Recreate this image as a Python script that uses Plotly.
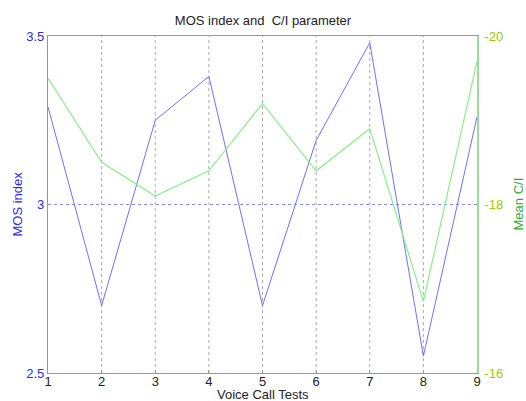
import plotly.graph_objects as go

tests = [1, 2, 3, 4, 5, 6, 7, 8, 9]
mos_index = [3.29, 2.70, 3.25, 3.38, 2.70, 3.19, 3.48, 2.55, 3.26]
mean_ci = [-19.5, -18.5, -18.1, -18.4, -19.2, -18.4, -18.9, -16.85, -19.7]

left_ticks = [2.5, 3, 3.5]
left_tick_text = ["2.5", "3", "3.5"]
right_ticks = [-16, -18, -20]
right_tick_text = ["-16", "-18", "-20"]

FONT = "Liberation Sans, Arial, sans-serif"
W, H = 526, 401
ML, MR, MT, MB = 48, 49, 36, 28
PW, PH = W - ML - MR, H - MT - MB

fig = go.Figure()
fig.add_trace(go.Scatter(x=tests, y=mos_index, mode="lines",
                         line=dict(color="#6f6fff", width=1), yaxis="y",
                         showlegend=False, hoverinfo="skip"))
fig.add_trace(go.Scatter(x=tests, y=mean_ci, mode="lines",
                         line=dict(color="#88ee88", width=1.2), yaxis="y2",
                         showlegend=False, hoverinfo="skip"))

# vertical dotted grid lines at each test except edges
for xv in tests[1:-1]:
    fig.add_shape(type="line", xref="x", yref="paper", x0=xv, x1=xv, y0=0, y1=1,
                  line=dict(color="#aaaaaa", width=1, dash="dot"), layer="below")

# axis titles as annotations for exact placement
fig.add_annotation(text="Voice Call Tests", xref="paper", yref="paper",
                   x=0.5, y=-(394 - (H - MB)) / PH, xanchor="center", yanchor="middle",
                   showarrow=False, font=dict(size=13, color="#222222", family=FONT))
fig.add_annotation(text="MOS index", xref="paper", yref="paper",
                   x=(17 - ML) / PW, y=0.5, xanchor="center", yanchor="middle",
                   textangle=-90, showarrow=False,
                   font=dict(size=13, color="#2a2aee", family=FONT))
fig.add_annotation(text="Mean C/I", xref="paper", yref="paper",
                   x=(518 - ML) / PW, y=0.5, xanchor="center", yanchor="middle",
                   textangle=-90, showarrow=False,
                   font=dict(size=13, color="#33aa33", family=FONT))

fig.update_layout(
    width=W, height=H,
    margin=dict(l=ML, r=MR, t=MT, b=MB),
    paper_bgcolor="white", plot_bgcolor="white",
    font=dict(family=FONT, size=12, color="#222222"),
    title=dict(text="MOS index and  C/I parameter", x=0.5, xanchor="center",
               y=1 - 20 / H, yanchor="middle",
               font=dict(size=13, color="#222222", family=FONT)),
    xaxis=dict(range=[1, 9], tickvals=tests, showgrid=False, zeroline=False,
               automargin=False,
               showline=True, linecolor="#999999", linewidth=1, mirror=True,
               ticks="inside", ticklen=3, tickcolor="#999999",
               ticklabelstandoff=-4,
               tickfont=dict(size=13, color="#222222")),
    yaxis=dict(range=[2.5, 3.5], tickvals=left_ticks, ticktext=left_tick_text,
               automargin=False,
               showgrid=True, gridcolor="#8888ff", griddash="dot", gridwidth=1,
               zeroline=False, showline=True, linecolor="#8888ff", linewidth=1.2,
               ticks="", tickfont=dict(size=13, color="#2a2aee")),
    yaxis2=dict(range=[-16, -20], tickvals=right_ticks, ticktext=right_tick_text,
                automargin=False,
                overlaying="y", side="right", showgrid=False, zeroline=False,
                showline=True, linecolor="#99dd99", linewidth=1.5,
                ticks="", ticklabelstandoff=3,
                tickfont=dict(size=13, color="#99cc00")),
)

fig.write_html("out.html", config={"displayModeBar": False},
               post_script="document.body.style.margin='0';")
